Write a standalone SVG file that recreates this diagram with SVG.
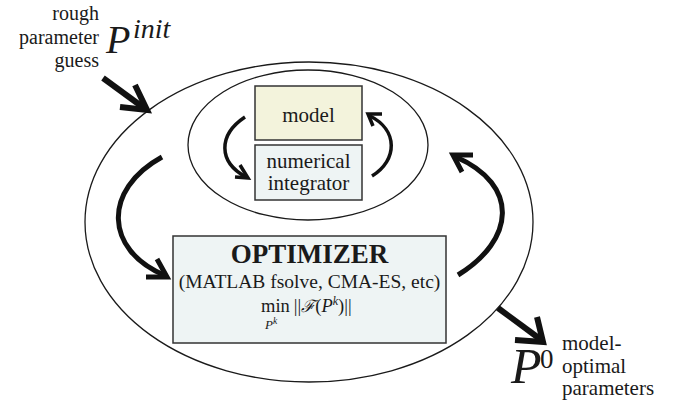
<svg xmlns="http://www.w3.org/2000/svg" width="683" height="400" viewBox="0 0 683 400">
<style>
.s{font-family:"Liberation Serif","DejaVu Serif",serif;fill:#1a1a1a}
.t{font-size:21px}
.u{font-size:20px}
.box{stroke:#333;stroke-width:1.5}
.ell{fill:none;stroke:#1a1a1a;stroke-width:1.3}
.arr{fill:none;stroke:#111;stroke-linecap:butt;stroke-linejoin:miter}
</style>
<rect width="683" height="400" fill="#fff"/>
<g id="outer-loop"><ellipse class="ell" cx="309" cy="222" rx="224" ry="160"/></g>
<g id="inner-loop"><ellipse class="ell" cx="308" cy="145" rx="120" ry="75"/></g>
<g id="model">
<rect class="box" x="255" y="86" width="107" height="54" fill="#f3f3dc"/>
<text class="s t" x="308.5" y="122" text-anchor="middle">model</text>
</g>
<g id="integrator">
<rect class="box" x="255" y="145" width="107" height="55" fill="#eef4f4"/>
<text class="s t" x="308.5" y="168" text-anchor="middle">numerical</text>
<text class="s t" x="308.5" y="190" text-anchor="middle">integrator</text>
</g>
<g id="optimizer">
<rect class="box" x="173" y="236" width="273" height="107" fill="#eef4f4"/>
<text class="s" x="309.5" y="263" text-anchor="middle" font-size="27" font-weight="bold">OPTIMIZER</text>
<text class="s" x="309.5" y="288" text-anchor="middle" font-size="19.5">(MATLAB fsolve, CMA-ES, etc)</text>
<text class="s" x="261" y="312" font-size="18.5">min<tspan dx="4">||</tspan><tspan font-family="'DejaVu Serif',serif" font-style="italic" font-size="17">ℱ</tspan>(<tspan font-style="italic">P</tspan><tspan font-style="italic" font-size="12" dy="-7">k</tspan><tspan dy="7">)||</tspan></text>
<text class="s" x="265" y="329" font-size="13" font-style="italic">P<tspan font-size="9.5" dy="-5">k</tspan></text>
</g>
<g id="input">
<text class="s u" x="99" y="20" text-anchor="end">rough</text>
<text class="s u" x="99" y="43.5" text-anchor="end">parameter</text>
<text class="s u" x="99" y="66.5" text-anchor="end">guess</text>
<text class="s" x="106" y="53" font-size="40" font-style="italic">P</text>
<text class="s" x="133" y="38" font-size="28" font-style="italic">init</text>
</g>
<g id="output">
<text class="s" x="511" y="383" font-size="50" font-style="italic">P</text>
<text class="s" x="540" y="368" font-size="27">0</text>
<text class="s t" x="562" y="350">model-</text>
<text class="s t" x="562" y="373">optimal</text>
<text class="s t" x="562" y="395">parameters</text>
</g>
<g id="connectors">
<path class="arr" stroke-width="6" d="M103,78 L144,108"/>
<polyline class="arr" stroke-width="6" points="120,107 147,110 135,85"/>
<path class="arr" stroke-width="5" d="M162,157 C102,190 105,250 164,275"/>
<polyline class="arr" stroke-width="5" points="157,259 167,277 146,277"/>
<path class="arr" stroke-width="5" d="M458,275 C515,240 520,185 456,157"/>
<polyline class="arr" stroke-width="5" points="462,172 453,155 473,155"/>
<path class="arr" stroke-width="3.5" d="M245,117 C218,135 218,162 246,177"/>
<polyline class="arr" stroke-width="3.5" points="240,165 248,178 235,177"/>
<path class="arr" stroke-width="3.5" d="M372,176 C398,160 398,130 370,116"/>
<polyline class="arr" stroke-width="3.5" points="373,126 368,114 382,114"/>
<path class="arr" stroke-width="6" d="M498,308 L540,339"/>
<polyline class="arr" stroke-width="6" points="515,340 543,342 537,317"/>
</g>
</svg>
